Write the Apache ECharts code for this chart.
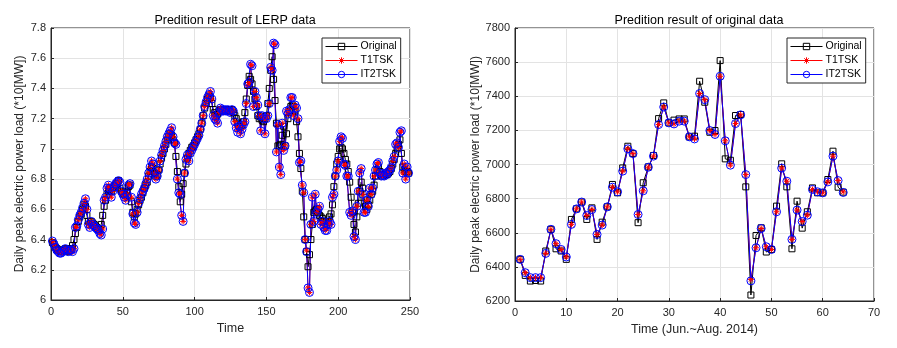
<!DOCTYPE html>
<html>
<head>
<meta charset="utf-8">
<script src="https://cdn.jsdelivr.net/npm/echarts@6/dist/echarts.min.js"></script>
<style>html,body{margin:0;padding:0;background:#fff;}#c{width:897px;height:348px;}</style>
</head>
<body>
<div id="c"></div>
<script>
// ---- Left plot: LERP data (Time 1..249) ----
const lerpOriginal = [
6.38,6.37,6.35,6.34,6.33,6.33,6.32,6.33,6.33,6.34,
6.33,6.32,6.33,6.34,6.36,6.40,6.44,6.48,6.52,6.55,
6.57,6.60,6.63,6.62,6.56,6.52,6.50,6.52,6.51,6.50,
6.49,6.48,6.47,6.46,6.50,6.56,6.62,6.66,6.70,6.72,
6.73,6.72,6.74,6.75,6.76,6.77,6.79,6.74,6.72,6.71,
6.70,6.69,6.72,6.75,6.76,6.65,6.58,6.55,6.57,6.60,
6.63,6.66,6.68,6.71,6.74,6.76,6.78,6.82,6.85,6.88,
6.87,6.84,6.82,6.83,6.86,6.90,6.94,6.97,7.00,7.03,
7.06,7.08,7.10,7.09,7.06,7.04,6.95,6.85,6.75,6.65,
6.70,6.77,6.84,6.90,6.94,6.97,6.99,7.01,7.02,7.04,
7.06,7.08,7.10,7.13,7.17,7.22,7.27,7.30,7.33,7.35,
7.34,7.30,7.26,7.24,7.22,7.23,7.25,7.26,7.26,7.25,
7.26,7.25,7.26,7.26,7.25,7.26,7.24,7.22,7.20,7.17,
7.15,7.15,7.16,7.18,7.24,7.33,7.42,7.48,7.46,7.43,
7.38,7.33,7.28,7.22,7.20,7.21,7.19,7.18,7.20,7.22,
7.30,7.40,7.52,7.61,7.46,7.32,7.17,7.02,7.02,7.03,
7.09,7.15,7.02,7.10,7.20,7.25,7.28,7.29,7.28,7.25,
7.18,7.08,6.97,6.87,6.72,6.55,6.40,6.32,6.22,6.30,
6.40,6.50,6.58,6.59,6.60,6.58,6.56,6.55,6.54,6.52,
6.51,6.50,6.52,6.55,6.57,6.63,6.75,6.82,6.90,6.95,
7.00,7.01,7.00,6.97,6.93,6.90,6.85,6.78,6.68,6.58,
6.50,6.45,6.55,6.64,6.72,6.78,6.74,6.68,6.62,6.60,
6.63,6.66,6.70,6.72,6.76,6.82,6.86,6.88,6.85,6.83,
6.82,6.83,6.84,6.83,6.84,6.85,6.87,6.90,6.93,6.97,
7.00,7.03,7.06,6.97,6.88,6.86,6.85,6.85,6.84
];
const lerpT1TSK = [
6.39,6.37,6.35,6.33,6.32,6.32,6.31,6.32,6.33,6.34,
6.33,6.32,6.33,6.33,6.32,6.34,6.48,6.48,6.53,6.56,
6.58,6.60,6.64,6.67,6.60,6.50,6.48,6.52,6.50,6.49,
6.48,6.47,6.46,6.44,6.43,6.47,6.66,6.68,6.74,6.76,
6.74,6.68,6.72,6.75,6.77,6.77,6.79,6.78,6.72,6.70,
6.68,6.66,6.70,6.76,6.77,6.68,6.57,6.51,6.50,6.58,
6.64,6.67,6.70,6.72,6.74,6.77,6.80,6.84,6.88,6.92,
6.90,6.84,6.80,6.82,6.86,6.92,6.96,6.99,7.02,7.05,
7.08,7.10,7.12,7.14,7.08,7.04,7.03,6.80,6.71,6.70,
6.56,6.52,6.84,6.93,6.96,6.92,6.97,6.99,7.01,7.03,
7.05,7.07,7.09,7.13,7.17,7.22,7.28,7.31,7.34,7.36,
7.38,7.33,7.22,7.20,7.19,7.17,7.24,7.27,7.26,7.25,
7.26,7.25,7.26,7.25,7.24,7.26,7.25,7.18,7.14,7.12,
7.15,7.10,7.13,7.16,7.18,7.30,7.42,7.44,7.56,7.55,
7.28,7.38,7.34,7.29,7.22,7.12,7.22,7.20,7.10,7.20,
7.22,7.30,7.54,7.52,7.70,7.69,6.98,7.16,6.88,6.83,
7.17,6.99,7.02,7.25,7.23,7.26,7.34,7.34,7.22,7.29,
7.27,7.20,6.91,6.92,6.76,6.71,6.40,6.33,6.08,6.05,
6.50,6.68,6.52,6.70,6.58,6.60,6.62,6.50,6.52,6.48,
6.46,6.47,6.50,6.52,6.50,6.68,6.70,6.82,6.86,6.92,
7.05,7.08,7.07,6.90,6.89,6.82,6.82,6.58,6.56,6.59,
6.42,6.40,6.62,6.72,6.84,6.87,6.70,6.58,6.58,6.66,
6.62,6.74,6.70,6.74,6.82,6.86,6.90,6.91,6.84,6.82,
6.83,6.82,6.84,6.83,6.85,6.86,6.88,6.92,6.95,7.03,
7.04,7.01,7.11,7.12,6.84,6.90,6.80,6.88,6.84
];
const lerpIT2TSK = [
6.39,6.37,6.35,6.33,6.32,6.31,6.31,6.32,6.33,6.34,
6.33,6.32,6.33,6.33,6.32,6.34,6.48,6.49,6.53,6.56,
6.58,6.61,6.64,6.67,6.60,6.50,6.48,6.52,6.50,6.49,
6.48,6.47,6.46,6.44,6.43,6.47,6.66,6.68,6.74,6.76,
6.74,6.68,6.72,6.75,6.77,6.78,6.79,6.78,6.72,6.70,
6.68,6.66,6.70,6.76,6.77,6.68,6.57,6.51,6.50,6.58,
6.64,6.67,6.70,6.72,6.74,6.77,6.80,6.84,6.88,6.92,
6.90,6.84,6.80,6.82,6.86,6.92,6.96,6.99,7.02,7.05,
7.08,7.10,7.12,7.14,7.08,7.04,7.03,6.80,6.71,6.70,
6.56,6.52,6.84,6.93,6.96,6.92,6.97,6.99,7.01,7.03,
7.05,7.07,7.09,7.13,7.17,7.22,7.28,7.31,7.34,7.36,
7.38,7.33,7.22,7.20,7.19,7.17,7.24,7.27,7.26,7.25,
7.26,7.25,7.26,7.25,7.24,7.26,7.25,7.18,7.14,7.11,
7.15,7.10,7.13,7.16,7.18,7.30,7.43,7.44,7.56,7.55,
7.28,7.38,7.34,7.29,7.22,7.12,7.22,7.20,7.10,7.20,
7.22,7.30,7.54,7.52,7.70,7.69,6.98,7.16,6.88,6.83,
7.17,6.99,7.02,7.25,7.23,7.26,7.34,7.34,7.22,7.29,
7.27,7.20,6.91,6.92,6.76,6.71,6.40,6.32,6.08,6.05,
6.50,6.68,6.52,6.70,6.58,6.60,6.62,6.50,6.52,6.48,
6.46,6.46,6.50,6.52,6.50,6.68,6.70,6.82,6.86,6.92,
7.05,7.08,7.07,6.90,6.89,6.82,6.82,6.58,6.56,6.59,
6.42,6.40,6.62,6.72,6.84,6.87,6.70,6.58,6.58,6.66,
6.62,6.74,6.70,6.74,6.82,6.86,6.90,6.91,6.84,6.82,
6.83,6.82,6.84,6.83,6.85,6.86,6.88,6.92,6.95,7.03,
7.04,7.01,7.11,7.12,6.84,6.90,6.80,6.88,6.84
];

// ---- Right plot: original data (Time 1..64, Jun.~Aug. 2014) ----
const origOriginal = [
6444,6350,6317,6320,6317,6493,6620,6506,6493,6444,
6678,6740,6780,6678,6746,6561,6662,6752,6883,6834,
6980,7107,7064,6659,6893,6986,7053,7269,7361,7244,
7260,7267,7267,7162,7166,7488,7365,7189,7199,7609,
7033,7025,7287,7293,6869,6235,6584,6629,6487,6502,
6756,7004,6869,6506,6785,6627,6723,6863,6834,6834,
6912,7078,6867,6838
];
const origT1TSK = [
6444,6366,6337,6337,6337,6479,6620,6536,6502,6458,
6649,6740,6780,6701,6736,6590,6645,6752,6867,6840,
6961,7092,7064,6707,6846,6984,7049,7234,7337,7244,
7238,7254,7254,7162,7150,7416,7380,7199,7176,7517,
7139,6996,7240,7291,6941,6327,6512,6625,6518,6502,
6723,6979,6902,6561,6733,6666,6703,6854,6840,6834,
6898,7049,6906,6840
];
const origIT2TSK = [
6444,6366,6337,6337,6337,6479,6620,6536,6502,6458,
6649,6740,6780,6701,6736,6590,6645,6752,6867,6840,
6961,7092,7064,6707,6846,6984,7049,7234,7337,7244,
7238,7254,7254,7162,7150,7416,7380,7199,7176,7517,
7139,6996,7240,7291,6941,6318,6512,6625,6518,6502,
6723,6979,6902,6561,6733,6666,6703,6854,6840,6834,
6898,7049,6906,6836
];

const leftXTicks = [0, 50, 100, 150, 200, 250];
const rightXTicks = [0, 10, 20, 30, 40, 50, 60, 70];

const seriesNames = ['Original', 'T1TSK', 'IT2TSK'];
const seriesColors = ['#000000', '#ff0000', '#0000ff'];
const titles = ['Predition result of LERP data', 'Predition result of original data'];
const xNames = ['Time', 'Time (Jun.~Aug. 2014)'];
const yName = 'Daily peak electric power load (*10[MW])';

const FONT = 'Liberation Sans, Arial, sans-serif';
const TXT = '#262626';
const STAR = 'path://M0,-10L0,10M-10,0L10,0M-7,-7L7,7M-7,7L7,-7';
const SYMBOLS = ['rect', STAR, 'circle'];
const SIZES = [6, 6, 8];

function pairs(arr){ return arr.map((v,i)=>[i+1, v]); }

function makeSeries(idx, lists){
  return lists.map((arr, k) => ({
    name: seriesNames[k], type:'line', xAxisIndex:idx, yAxisIndex:idx, data:pairs(arr),
    symbol: SYMBOLS[k], symbolSize: SIZES[k], showSymbol:true,
    lineStyle:{color:seriesColors[k], width:1},
    itemStyle:{color:'rgba(255,255,255,0)', borderColor:seriesColors[k], borderWidth:1}
  }));
}

function xAxis(idx, ticks, name){
  return {type:'value', gridIndex:idx, min:ticks[0], max:ticks[ticks.length-1],
    interval:ticks[1]-ticks[0], name:name, nameLocation:'middle', nameGap:21,
    nameTextStyle:{fontFamily:FONT, fontSize:12.5, color:TXT},
    axisLine:{show:true, lineStyle:{color:TXT, width:1}},
    axisTick:{show:true, inside:true, length:3, lineStyle:{color:TXT}},
    axisLabel:{fontFamily:FONT, fontSize:11, color:TXT, margin:6},
    splitLine:{show:true, lineStyle:{color:'#e3e3e3', width:1}}};
}
function yAxis(idx, min, max, step, gap, fmt){
  return {type:'value', gridIndex:idx, min:min, max:max, interval:step,
    name:yName, nameLocation:'middle', nameGap:gap, nameRotate:90,
    nameTextStyle:{fontFamily:FONT, fontSize:12, color:TXT},
    axisLine:{show:true, lineStyle:{color:TXT, width:1}},
    axisTick:{show:true, inside:true, length:3, lineStyle:{color:TXT}},
    axisLabel:{fontFamily:FONT, fontSize:11, color:TXT, margin:5, formatter:fmt},
    splitLine:{show:true, lineStyle:{color:'#e3e3e3', width:1}}};
}

function legend(left){
  return {left:left, top:38, orient:'vertical',
    data: seriesNames.map((n,k)=>({
      name:n,
      itemStyle:{color:'rgba(255,255,255,0)', borderColor:seriesColors[k], borderWidth:1},
      lineStyle:{color:seriesColors[k], width:1}
    })),
    itemStyle:{color:'rgba(255,255,255,0)', borderWidth:1},
    lineStyle:{width:1},
    itemWidth:32, itemHeight:8, itemGap:3, padding:[3,4,3,3],
    backgroundColor:'#fff', borderColor:'#262626', borderWidth:1,
    textStyle:{fontFamily:FONT, fontSize:10.5, color:'#000', padding:[0,0,0,-2]}};
}

const chart = echarts.init(document.getElementById('c'));
chart.setOption({
  animation:false,
  backgroundColor:'#fff',
  title:[
    {text:titles[0], left:230, top:9, textAlign:'center',
     textStyle:{fontFamily:FONT, fontSize:12.5, fontWeight:'normal', color:'#000'}},
    {text:titles[1], left:694, top:9, textAlign:'center',
     textStyle:{fontFamily:FONT, fontSize:12.5, fontWeight:'normal', color:'#000'}}
  ],
  legend:[legend(322), legend(787)],
  grid:[
    {left:51, top:28, width:359, height:272, show:true, borderColor:TXT, borderWidth:1, backgroundColor:'#fff'},
    {left:515, top:28, width:359, height:273, show:true, borderColor:TXT, borderWidth:1, backgroundColor:'#fff'}
  ],
  xAxis:[xAxis(0, leftXTicks, xNames[0]), xAxis(1, rightXTicks, xNames[1])],
  yAxis:[
    yAxis(0, 6, 7.8, 0.2, 25, v => String(+v.toFixed(1))),
    yAxis(1, 6200, 7800, 200, 33, v => String(v))
  ],
  series:[].concat(
    makeSeries(0, [lerpOriginal, lerpT1TSK, lerpIT2TSK]),
    makeSeries(1, [origOriginal, origT1TSK, origIT2TSK])
  )
});
</script>
</body>
</html>
